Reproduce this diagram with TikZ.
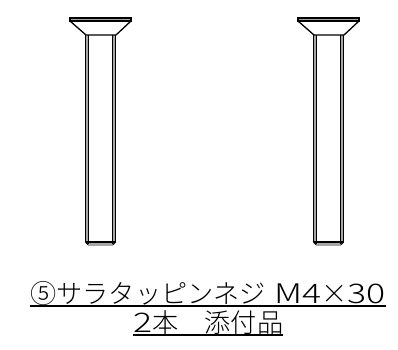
\documentclass[tikz,border=0pt]{standalone}
\usepackage{fontspec}
\newfontfamily\jpfont{Noto Sans CJK JP Light}
\newfontfamily\latinfont[FakeStretch=1.32]{Noto Sans CJK JP Light}
\newcommand{\latin}[1]{{\latinfont\fontsize{27}{27}\selectfont #1}}
\begin{document}
\begin{tikzpicture}[x=1pt, y=-1pt,
    edge/.style={line width=1.3pt, black},
    strip/.style={fill=black!35, draw=none},
    rulebelow/.style={line width=1.5pt, black},
    caption/.style={font=\jpfont\fontsize{26.2}{26.2}\selectfont, inner sep=0pt, anchor=base west}]
  \useasboundingbox (0,0) rectangle (398,349);
  \foreach \dx in {0,228}{
    \begin{scope}[xshift=\dx pt]
      % gray bands
      \fill[strip] (70,18) rectangle (131,21);
      \fill[strip] (85.5,35) rectangle (88.5,242);
      \fill[strip] (112.5,35) rectangle (115.5,242);
      \fill[strip] (88,242) rectangle (113,245.5);
      % head
      \draw[edge] (70,18) -- (131,18) -- (131,21) -- (70,21) -- cycle;
      \draw[edge] (70,21) -- (86,35) -- (116,35) -- (131,21);
      % shaft
      \draw[edge] (85.5,35) -- (85.5,242) (115.5,35) -- (115.5,242);
      \draw[edge] (88.5,35) -- (88.5,244) (112.5,35) -- (112.5,244);
      % tip
      \draw[edge] (85.5,242) -- (115.5,242);
      \draw[edge] (85.5,242) -- (88,244.5) (115.5,242) -- (113,244.5);
    \end{scope}
  }
  \node[caption] (line1) at (30,303) {⑤サラタッピンネジ\hspace{9pt}\latin{M4}×\latin{30}};
  \node[caption] (line2) at (133,332) {\latin{2}本　添付品};
  \draw[rulebelow] ([yshift=-3.2pt]line1.base west) -- ([yshift=-3.2pt]line1.base east);
  \draw[rulebelow] ([yshift=-3.2pt]line2.base west) -- ([yshift=-3.2pt]line2.base east);
\end{tikzpicture}
\end{document}
